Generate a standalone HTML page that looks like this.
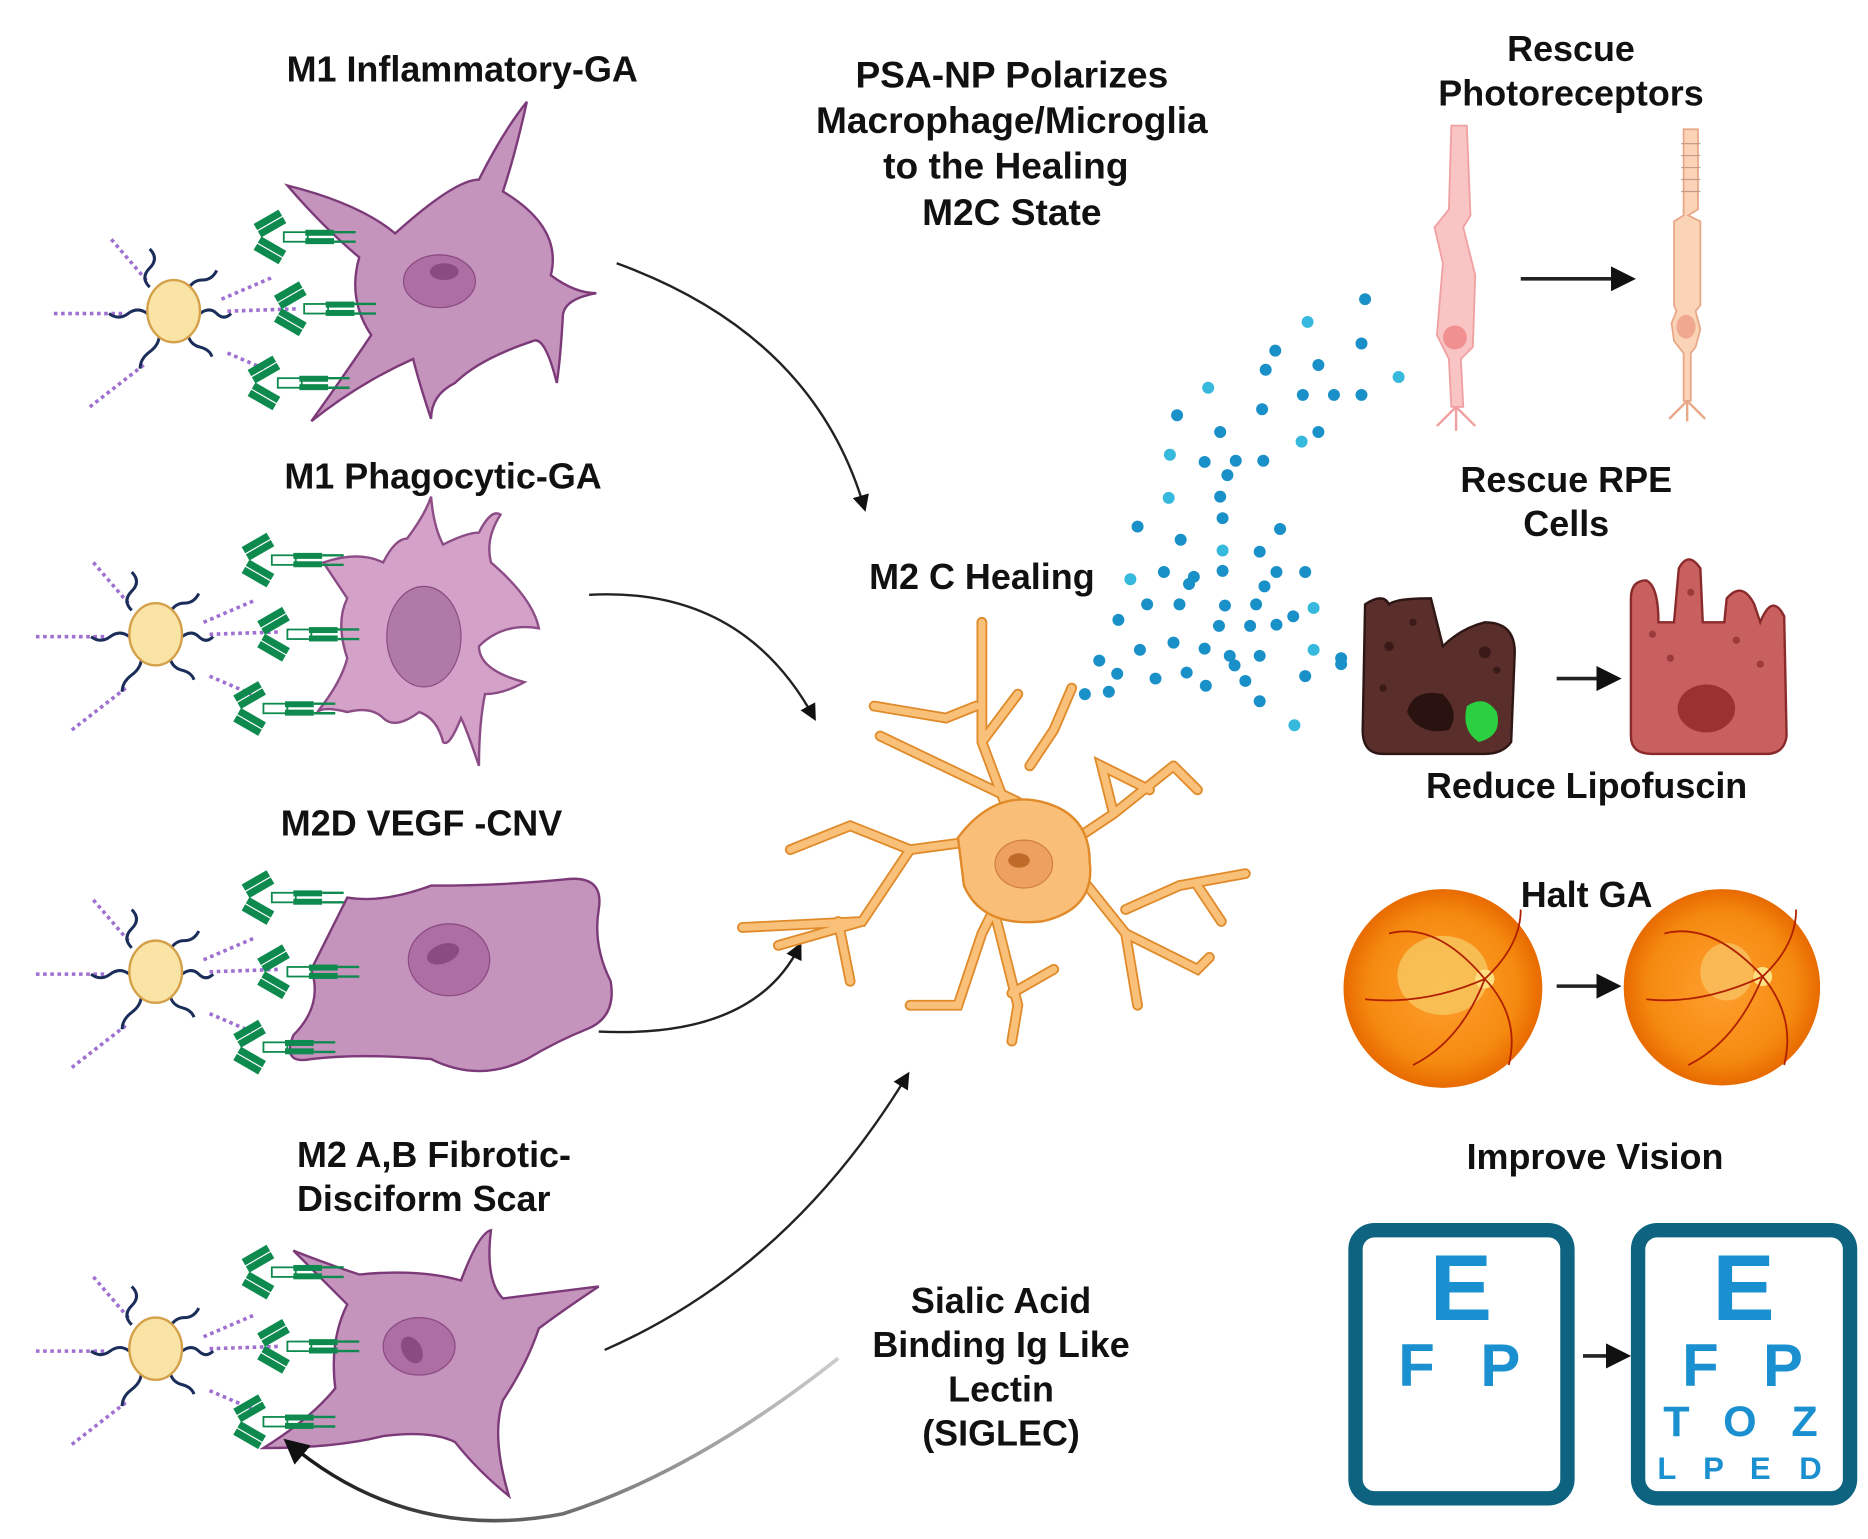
<!DOCTYPE html>
<html><head><meta charset="utf-8"><style>
html,body{margin:0;padding:0;background:#fff;}
svg{display:block;}
text{font-family:"Liberation Sans",sans-serif;font-weight:bold;fill:#111;}
text.bl{fill:#1a90d0;font-weight:bold;}
</style></head><body>
<svg width="1868" height="1539" viewBox="0 0 1560 1286" preserveAspectRatio="none" xmlns="http://www.w3.org/2000/svg">
<defs>
<g id="np">
  <g stroke="#a070d0" stroke-width="3" stroke-dasharray="3 3" fill="none">
    <line x1="-52" y1="-60" x2="-22" y2="-25"/>
    <line x1="-100" y1="2" x2="-40" y2="2"/>
    <line x1="-70" y1="80" x2="-25" y2="45"/>
    <line x1="40" y1="-10" x2="82" y2="-28"/>
    <line x1="45" y1="0" x2="105" y2="-2"/>
    <line x1="45" y1="35" x2="80" y2="50"/>
  </g>
  <g stroke="#1b2e5a" stroke-width="2.5" fill="none">
    <path d="M-20 -20 q-8 -8 0 -16 q8 -8 0 -16"/>
    <path d="M-22 2 q-8 -6 -16 0 q-8 6 -16 0"/>
    <path d="M-12 20 q0 8 -8 14 q-8 6 -8 14"/>
    <path d="M12 -18 q4 -8 12 -8 q8 0 12 -8"/>
    <path d="M22 2 q8 -6 14 0 q6 6 12 0"/>
    <path d="M12 20 q2 8 10 10 q8 2 10 8"/>
  </g>
  <ellipse cx="0" cy="0" rx="22" ry="26" fill="#f9e3a5" stroke="#d4a04a" stroke-width="2"/>
</g>
<g id="ab">
  <g fill="#0e8a4e">
    <rect x="-6" y="-16" width="24" height="6" transform="rotate(-30)"/>
    <rect x="-6" y="-9" width="24" height="6" transform="rotate(-30)"/>
    <rect x="-6" y="10" width="24" height="6" transform="rotate(30)"/>
    <rect x="-6" y="3" width="24" height="6" transform="rotate(30)"/>
    <rect x="30" y="-6" width="24" height="5"/><rect x="30" y="1" width="24" height="5"/>
  </g>
  <rect x="12" y="-4" width="20" height="8" fill="none" stroke="#0e8a4e" stroke-width="1.5"/>
  <line x1="54" y1="-4" x2="72" y2="-4" stroke="#0e8a4e" stroke-width="2"/>
  <line x1="54" y1="4" x2="72" y2="4" stroke="#0e8a4e" stroke-width="2"/>
</g>
<marker id="ar" viewBox="0 0 10 10" refX="8" refY="5" markerWidth="7" markerHeight="7" orient="auto"><path d="M0 0 L10 5 L0 10 z" fill="#111"/></marker>
<radialGradient id="fund" cx="0.5" cy="0.5" r="0.5"><stop offset="0" stop-color="#ffa030"/><stop offset="0.75" stop-color="#f58a10"/><stop offset="1" stop-color="#e86a00"/></radialGradient>
<linearGradient id="fade" x1="0" y1="0" x2="1" y2="0"><stop offset="0" stop-color="#111"/><stop offset="1" stop-color="#ccc"/></linearGradient>
</defs>

<!-- Labels -->
<text x="386" y="68" font-size="30" text-anchor="middle">M1 Inflammatory-GA</text>
<text x="370" y="408" font-size="30" text-anchor="middle">M1 Phagocytic-GA</text>
<text x="352" y="698" font-size="30" text-anchor="middle">M2D VEGF -CNV</text>
<text x="248" y="975" font-size="30">M2 A,B  Fibrotic-</text>
<text x="248" y="1012" font-size="30">Disciform Scar</text>
<g font-size="31" text-anchor="middle">
<text x="845" y="73">PSA-NP Polarizes</text>
<text x="845" y="111">Macrophage/Microglia</text>
<text x="840" y="149">to the Healing</text>
<text x="845" y="188">M2C State</text>
</g>
<text x="820" y="492" font-size="30" text-anchor="middle">M2 C Healing</text>
<g font-size="30" text-anchor="middle">
<text x="1312" y="51">Rescue</text>
<text x="1312" y="88">Photoreceptors</text>
<text x="1308" y="411">Rescue RPE</text>
<text x="1308" y="448">Cells</text>
<text x="1325" y="667">Reduce Lipofuscin</text>
<text x="1325" y="758">Halt  GA</text>
<text x="1332" y="977">Improve Vision</text>
<text x="836" y="1097">Sialic Acid</text>
<text x="836" y="1134">Binding Ig Like</text>
<text x="836" y="1171">Lectin</text>
<text x="836" y="1208">(SIGLEC)</text>
</g>

<!-- Cell 1 -->
<path d="M240 155 Q300 170 330 195 Q380 150 400 150 Q420 110 440 85 Q430 130 420 160 Q470 190 460 230 Q480 245 498 245 Q470 250 470 265 Q468 300 465 320 Q455 280 445 285 Q400 300 380 320 Q360 330 360 350 Q350 320 345 300 Q300 320 260 352 Q290 310 310 280 Q290 250 300 215 Q270 190 240 155 Z" fill="#c594bd" stroke="#7c3a78" stroke-width="2"/>
<ellipse cx="367" cy="235" rx="30" ry="22" fill="#ad6ea3" stroke="#8a4a82"/>
<ellipse cx="371" cy="227" rx="12" ry="7" fill="#8a4a82"/>
<!-- Cell 2 -->
<path d="M270 470 Q300 460 320 470 Q330 450 340 450 Q355 430 360 415 Q362 440 370 455 Q390 445 400 445 Q410 425 418 430 Q405 450 410 470 Q445 500 450 525 Q420 520 400 540 Q400 560 438 570 Q420 580 405 580 Q400 605 400 640 Q390 610 385 600 Q375 625 370 620 Q365 600 350 595 Q330 610 320 600 Q310 590 290 595 Q270 590 265 595 Q285 570 290 550 Q280 520 290 500 Q280 485 270 470 Z" fill="#d4a2c8" stroke="#8c4c86" stroke-width="2"/>
<ellipse cx="354" cy="532" rx="31" ry="42" fill="#b07aa6" stroke="#8a4a82"/>
<!-- Cell 3 -->
<path d="M290 750 Q320 755 360 740 Q420 740 470 735 Q505 730 500 760 Q495 790 510 820 Q515 850 490 860 Q465 870 440 885 Q400 905 360 885 Q300 880 260 885 Q235 890 245 865 Q270 840 260 810 Q270 790 290 750 Z" fill="#c594bd" stroke="#7c3a78" stroke-width="2"/>
<ellipse cx="375" cy="802" rx="34" ry="30" fill="#ad6ea3" stroke="#8a4a82"/>
<ellipse cx="370" cy="797" rx="14" ry="8" fill="#8a4a82" transform="rotate(-20 370 797)"/>
<!-- Cell 4 -->
<path d="M245 1045 Q270 1055 300 1065 Q350 1060 385 1070 Q400 1030 410 1028 Q405 1070 420 1085 Q460 1080 500 1075 Q470 1095 450 1110 Q440 1140 420 1170 Q410 1200 425 1250 Q400 1230 380 1205 Q360 1195 320 1200 Q280 1210 220 1210 Q260 1185 280 1160 Q275 1120 290 1090 Q270 1070 245 1045 Z" fill="#c594bd" stroke="#7c3a78" stroke-width="2"/>
<ellipse cx="350" cy="1125" rx="30" ry="24" fill="#ad6ea3" stroke="#8a4a82"/>
<ellipse cx="344" cy="1128" rx="8" ry="12" fill="#8a4a82" transform="rotate(-30 344 1128)"/>

<!-- Nanoparticles and antibodies -->
<use href="#np" x="145" y="260"/>
<use href="#np" x="130" y="530"/>
<use href="#np" x="130" y="812"/>
<use href="#np" x="130" y="1127"/>
<g>
<use href="#ab" x="225" y="198"/><use href="#ab" x="242" y="258"/><use href="#ab" x="220" y="320"/>
<use href="#ab" x="215" y="468"/><use href="#ab" x="228" y="530"/><use href="#ab" x="208" y="592"/>
<use href="#ab" x="215" y="750"/><use href="#ab" x="228" y="812"/><use href="#ab" x="208" y="875"/>
<use href="#ab" x="215" y="1063"/><use href="#ab" x="228" y="1125"/><use href="#ab" x="208" y="1188"/>
</g>

<!-- Arrows -->
<g fill="none" stroke="#222" stroke-width="2">
<path d="M515 220 Q680 280 722 425" marker-end="url(#ar)"/>
<path d="M492 497 Q620 490 680 600" marker-end="url(#ar)"/>
<path d="M500 862 Q630 868 668 790" marker-end="url(#ar)"/>
<path d="M505 1128 Q660 1060 758 898" marker-end="url(#ar)"/>
</g>
<path d="M700 1135 Q580 1230 470 1265 Q340 1290 240 1205" fill="none" stroke="url(#fade)" stroke-width="3" marker-end="url(#ar)"/>

<!-- Orange microglia -->
<g fill="none" stroke="#e08a2a" stroke-width="9" stroke-linecap="round">
<path d="M850 700 L820 620 L820 520 M815 590 L790 600 L730 590 M820 620 L850 580 M860 640 L880 610 L895 575 M850 670 L735 615"/>
<path d="M835 700 L760 710 L710 690 L660 710 M760 710 L720 770 L620 775 M700 770 L710 820 M720 770 L650 790"/>
<path d="M840 740 L820 780 L800 840 L760 840 M830 760 L850 840 L845 870 M845 830 L880 810"/>
<path d="M900 730 L940 780 L950 840 M940 760 L985 740 L1040 730 M1000 740 L1020 770 M940 780 L1000 810 L1010 800"/>
<path d="M900 700 L930 680 L980 640 M930 680 L920 640 L960 660 M980 640 L1000 660"/>
</g>
<g fill="none" stroke="#f8c078" stroke-width="6" stroke-linecap="round">
<path d="M850 700 L820 620 L820 520 M815 590 L790 600 L730 590 M820 620 L850 580 M860 640 L880 610 L895 575 M850 670 L735 615"/>
<path d="M835 700 L760 710 L710 690 L660 710 M760 710 L720 770 L620 775 M700 770 L710 820 M720 770 L650 790"/>
<path d="M840 740 L820 780 L800 840 L760 840 M830 760 L850 840 L845 870 M845 830 L880 810"/>
<path d="M900 730 L940 780 L950 840 M940 760 L985 740 L1040 730 M1000 740 L1020 770 M940 780 L1000 810 L1010 800"/>
<path d="M900 700 L930 680 L980 640 M930 680 L920 640 L960 660 M980 640 L1000 660"/>
</g>
<path d="M800 700 Q830 660 870 670 Q910 680 910 720 Q915 760 870 770 Q820 775 805 740 Z" fill="#f9be78" stroke="#e08a2a" stroke-width="2"/>
<ellipse cx="855" cy="722" rx="24" ry="20" fill="#eea060" stroke="#d08040"/>
<ellipse cx="851" cy="719" rx="9" ry="6" fill="#c06a2a"/>

<!-- Blue dots -->
<g fill="#1a90c8">
<circle cx="1140" cy="250" r="5"/><circle cx="1092" cy="269" r="5" fill="#37b8dd"/><circle cx="1137" cy="287" r="5"/><circle cx="1065" cy="293" r="5"/><circle cx="1101" cy="305" r="5"/><circle cx="1168" cy="315" r="5" fill="#37b8dd"/>
<circle cx="1009" cy="324" r="5" fill="#37b8dd"/><circle cx="1057" cy="309" r="5"/><circle cx="1088" cy="330" r="5"/><circle cx="1114" cy="330" r="5"/><circle cx="1137" cy="330" r="5"/><circle cx="983" cy="347" r="5"/><circle cx="1054" cy="342" r="5"/>
<circle cx="1019" cy="361" r="5"/><circle cx="1101" cy="361" r="5"/><circle cx="1087" cy="369" r="5" fill="#37b8dd"/><circle cx="977" cy="380" r="5" fill="#37b8dd"/><circle cx="1006" cy="386" r="5"/><circle cx="1032" cy="385" r="5"/><circle cx="1055" cy="385" r="5"/><circle cx="1025" cy="397" r="5"/>
<circle cx="1019" cy="415" r="5"/><circle cx="976" cy="416" r="5" fill="#37b8dd"/><circle cx="1021" cy="433" r="5"/><circle cx="950" cy="440" r="5"/><circle cx="1069" cy="442" r="5"/><circle cx="986" cy="451" r="5"/><circle cx="1021" cy="460" r="5" fill="#37b8dd"/><circle cx="1052" cy="461" r="5"/>
<circle cx="944" cy="484" r="5" fill="#37b8dd"/><circle cx="972" cy="478" r="5"/><circle cx="997" cy="482" r="5"/><circle cx="1021" cy="477" r="5"/><circle cx="1066" cy="478" r="5"/><circle cx="1090" cy="478" r="5"/><circle cx="1056" cy="490" r="5"/><circle cx="993" cy="488" r="5"/>
<circle cx="958" cy="505" r="5"/><circle cx="985" cy="505" r="5"/><circle cx="1023" cy="506" r="5"/><circle cx="1049" cy="505" r="5"/><circle cx="1097" cy="508" r="5" fill="#37b8dd"/><circle cx="1080" cy="515" r="5"/><circle cx="1018" cy="523" r="5"/><circle cx="1044" cy="523" r="5"/><circle cx="1066" cy="522" r="5"/>
<circle cx="934" cy="518" r="5"/><circle cx="980" cy="537" r="5"/><circle cx="1006" cy="542" r="5"/><circle cx="1027" cy="548" r="5"/><circle cx="1052" cy="548" r="5"/><circle cx="1097" cy="543" r="5" fill="#37b8dd"/><circle cx="1120" cy="550" r="5"/><circle cx="952" cy="543" r="5"/>
<circle cx="918" cy="552" r="5"/><circle cx="933" cy="563" r="5"/><circle cx="965" cy="567" r="5"/><circle cx="991" cy="562" r="5"/><circle cx="1031" cy="556" r="5"/><circle cx="1007" cy="573" r="5"/><circle cx="1040" cy="569" r="5"/><circle cx="1090" cy="565" r="5"/><circle cx="1120" cy="555" r="5"/>
<circle cx="906" cy="580" r="5"/><circle cx="926" cy="578" r="5"/><circle cx="1052" cy="586" r="5"/><circle cx="1081" cy="606" r="5" fill="#37b8dd"/>
</g>

<!-- Photoreceptors -->
<path d="M1212 105 L1225 105 L1228 180 L1222 190 L1232 230 L1230 290 L1220 300 L1222 340 L1212 340 L1210 300 L1200 280 L1205 220 L1198 190 L1210 175 Z" fill="#f8c4c4" stroke="#f0a0a0" stroke-width="1.5"/>
<circle cx="1215" cy="282" r="10" fill="#f19090"/>
<path d="M1216 340 L1200 356 M1216 340 L1232 356 M1216 340 L1216 360" stroke="#f0a0a0" stroke-width="2"/>
<line x1="1270" y1="233" x2="1362" y2="233" stroke="#222" stroke-width="3" marker-end="url(#ar)"/>
<path d="M1406 108 L1418 108 L1418 175 L1410 180 L1420 185 L1420 255 L1416 260 L1420 275 L1416 290 L1412 295 L1412 335 L1406 335 L1406 295 L1398 285 L1396 270 L1400 260 L1398 255 L1398 185 L1406 180 Z" fill="#fbd4b8" stroke="#e8a888" stroke-width="1.5"/>
<g stroke="#c89888" stroke-width="1"><line x1="1404" y1="120" x2="1420" y2="120"/><line x1="1404" y1="130" x2="1420" y2="130"/><line x1="1404" y1="140" x2="1420" y2="140"/><line x1="1404" y1="150" x2="1420" y2="150"/><line x1="1404" y1="160" x2="1420" y2="160"/></g>
<ellipse cx="1408" cy="273" rx="8" ry="10" fill="#f0a890"/>
<path d="M1409 335 L1394 350 M1409 335 L1424 350 M1409 335 L1409 352" stroke="#e8a888" stroke-width="2"/>

<!-- RPE cells -->
<path d="M1140 505 Q1155 495 1160 505 Q1165 500 1195 500 Q1200 520 1205 540 Q1220 525 1240 520 Q1265 520 1265 545 L1262 620 Q1255 630 1240 630 L1155 630 Q1138 630 1138 610 Z" fill="#5a2e2a" stroke="#2e1614" stroke-width="2"/>
<path d="M1175 595 Q1180 575 1205 580 Q1220 595 1210 610 Q1185 615 1175 595 Z" fill="#2a1210"/>
<path d="M1225 590 Q1240 580 1250 595 Q1255 615 1235 620 Q1220 610 1225 590 Z" fill="#2ad040"/>
<g fill="#3a1a18"><circle cx="1160" cy="540" r="4"/><circle cx="1180" cy="520" r="3"/><circle cx="1240" cy="545" r="5"/><circle cx="1250" cy="560" r="3"/><circle cx="1155" cy="575" r="3"/></g>
<line x1="1300" y1="567" x2="1350" y2="567" stroke="#222" stroke-width="3" marker-end="url(#ar)"/>
<path d="M1362 500 Q1362 485 1375 485 Q1385 490 1385 520 L1398 520 L1402 475 Q1410 460 1420 475 L1422 520 L1440 520 L1442 500 Q1455 485 1465 505 L1470 520 Q1480 495 1490 515 L1492 615 Q1490 630 1475 630 L1380 630 Q1362 630 1362 615 Z" fill="#c86060" stroke="#8a2a2a" stroke-width="2"/>
<g fill="#9a3a3a"><circle cx="1380" cy="530" r="3"/><circle cx="1395" cy="550" r="3"/><circle cx="1450" cy="535" r="3"/><circle cx="1470" cy="555" r="3"/><circle cx="1412" cy="495" r="3"/></g>
<ellipse cx="1425" cy="592" rx="24" ry="20" fill="#9a3232"/>

<!-- Fundus -->
<circle cx="1205" cy="826" r="83" fill="url(#fund)"/>
<ellipse cx="1205" cy="815" rx="38" ry="33" fill="#f8c860" opacity="0.8"/>
<circle cx="1240" cy="818" r="8" fill="#ffe080"/>
<g stroke="#b02000" stroke-width="1.5" fill="none"><path d="M1240 818 Q1200 770 1160 780"/><path d="M1240 818 Q1220 870 1180 890"/><path d="M1240 818 Q1270 790 1270 760"/><path d="M1240 818 Q1270 850 1260 890"/><path d="M1240 818 Q1190 840 1140 835"/></g>
<line x1="1300" y1="824" x2="1350" y2="824" stroke="#222" stroke-width="3" marker-end="url(#ar)"/>
<circle cx="1438" cy="825" r="82" fill="url(#fund)"/>
<ellipse cx="1442" cy="812" rx="22" ry="24" fill="#f8c060" opacity="0.8"/>
<circle cx="1472" cy="816" r="8" fill="#ffe080"/>
<g stroke="#b02000" stroke-width="1.5" fill="none"><path d="M1472 816 Q1430 770 1390 780"/><path d="M1472 816 Q1450 870 1410 890"/><path d="M1472 816 Q1500 790 1500 760"/><path d="M1472 816 Q1500 850 1490 890"/><path d="M1472 816 Q1420 840 1375 835"/></g>

<!-- Eye charts -->
<rect x="1132" y="1028" width="177" height="224" rx="16" fill="#fff" stroke="#0e6480" stroke-width="12"/>
<rect x="1368" y="1028" width="177" height="224" rx="16" fill="#fff" stroke="#0e6480" stroke-width="12"/>
<text class="bl" x="1220" y="1103" font-size="78" text-anchor="middle">E</text>
<text class="bl" x="1183" y="1158" font-size="50" text-anchor="middle">F</text>
<text class="bl" x="1253" y="1158" font-size="50" text-anchor="middle">P</text>
<text class="bl" x="1456" y="1103" font-size="78" text-anchor="middle">E</text>
<text class="bl" x="1420" y="1158" font-size="50" text-anchor="middle">F</text>
<text class="bl" x="1489" y="1158" font-size="50" text-anchor="middle">P</text>
<text class="bl" x="1400" y="1200" font-size="36" text-anchor="middle">T</text>
<text class="bl" x="1453" y="1200" font-size="36" text-anchor="middle">O</text>
<text class="bl" x="1507" y="1200" font-size="36" text-anchor="middle">Z</text>
<text class="bl" x="1392" y="1236" font-size="26" text-anchor="middle">L</text>
<text class="bl" x="1431" y="1236" font-size="26" text-anchor="middle">P</text>
<text class="bl" x="1470" y="1236" font-size="26" text-anchor="middle">E</text>
<text class="bl" x="1512" y="1236" font-size="26" text-anchor="middle">D</text>
<line x1="1322" y1="1133" x2="1358" y2="1133" stroke="#222" stroke-width="3" marker-end="url(#ar)"/>
</svg>
</body></html>
